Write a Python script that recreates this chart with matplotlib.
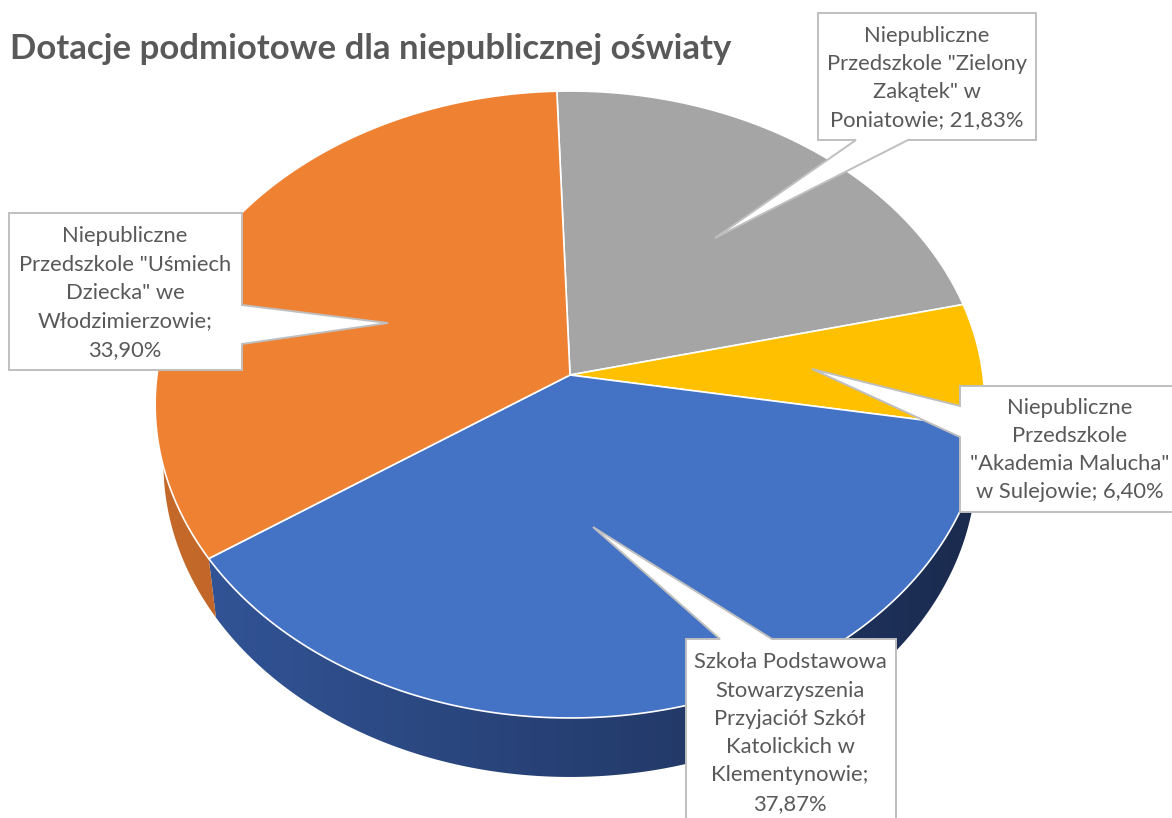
import numpy as np
import matplotlib
matplotlib.use("Agg")
import matplotlib.pyplot as plt
from matplotlib.patches import Polygon
from matplotlib.colors import LinearSegmentedColormap

# ---------------- data ----------------
title = "Dotacje podmiotowe dla niepublicznej oświaty"
categories = [
    'Niepubliczne\nPrzedszkole "Zielony\nZakątek" w\nPoniatowie',
    'Niepubliczne\nPrzedszkole\n"Akademia Malucha"\nw Sulejowie',
    'Szkoła Podstawowa\nStowarzyszenia\nPrzyjaciół Szkół\nKatolickich w\nKlementynowie',
    'Niepubliczne\nPrzedszkole "Uśmiech\nDziecka" we\nWłodzimierzowie',
]
shares = [21.83, 6.40, 37.87, 33.90]   # percent, clockwise from 12 o'clock
top_colors = ["#A5A5A5", "#FFC000", "#4472C4", "#EF8133"]
side_colors = [("#8A8A8A", "#6E6E6E"), ("#C89A00", "#9E7800"),
               ("#33569A", "#1A2A4D"), ("#C4692A", "#A8551B")]

TEXT = "#595959"
FONT = ["Lato", "DejaVu Sans"]

fig = plt.figure(figsize=(11.72, 8.18), dpi=100)
ax = fig.add_axes([0, 0, 1, 1])

# perspective projection of the unit disc onto the page (pixel units)
X0, Y0, A, B, D = 570.0, 375.0, 413.0, 275.4, -0.0941
DEPTH, SHRINK = 59.0, 0.98
TILT = np.deg2rad(2.0)


def proj(phi):
    x, y = np.cos(phi + TILT), -np.sin(phi + TILT)
    w = 1 + D * y
    return X0 + A * x / w, (Y0 + B * y) / w


def proj_bottom(phi):
    X, Y = proj(phi)
    return X0 + SHRINK * (X - X0), Y + DEPTH


fr = np.array(shares) / np.sum(shares)
starts = np.pi / 2 - 2 * np.pi * np.concatenate([[0], np.cumsum(fr)[:-1]])
ends = starts - 2 * np.pi * fr

# side walls
for s, e, (cl, cr) in zip(starts, ends, side_colors):
    phis = np.linspace(s, e, 200)
    tx, ty = proj(phis)
    bx, by = proj_bottom(phis[::-1])
    pts = np.column_stack([np.concatenate([tx, bx]), np.concatenate([ty, by])])
    patch = Polygon(pts, closed=True, fc="none", ec="none", zorder=1)
    ax.add_patch(patch)
    cmap = LinearSegmentedColormap.from_list("g", [cl, cr])
    grad = np.linspace(0, 1, 256).reshape(1, -1)
    ymin, ymax = pts[:, 1].min(), pts[:, 1].max()
    im = ax.imshow(grad, cmap=cmap, extent=(155, 990, ymax, ymin),
                   aspect="auto", zorder=1, interpolation="bilinear")
    im.set_clip_path(patch)

# top faces
for s, e, c in zip(starts, ends, top_colors):
    phis = np.linspace(s, e, 200)
    tx, ty = proj(phis)
    pts = np.column_stack([np.concatenate([[X0], tx]), np.concatenate([[Y0], ty])])
    ax.add_patch(Polygon(pts, closed=True, fc=c, ec="white", lw=1.2,
                         joinstyle="round", zorder=2))


# callouts
def callout(x0, y0, x1, y1, side, b0, b1, tip):
    if side == "bottom":
        pts = [(x0, y0), (x1, y0), (x1, y1), (b1, y1), tip, (b0, y1), (x0, y1)]
    elif side == "right":
        pts = [(x0, y0), (x1, y0), (x1, b0), tip, (x1, b1), (x1, y1), (x0, y1)]
    elif side == "left":
        pts = [(x0, y0), (x1, y0), (x1, y1), (x0, y1), (x0, b1), tip, (x0, b0)]
    else:  # top
        pts = [(x0, y0), (b0, y0), tip, (b1, y0), (x1, y0), (x1, y1), (x0, y1)]
    ax.add_patch(Polygon(pts, closed=True, fc="white", ec="#BFBFBF", lw=1.4,
                         joinstyle="miter", zorder=5))


label_texts = [f"{c}; {v:.2f}%".replace(".", ",") for c, v in zip(categories, shares)]
label_texts[3] = f"{categories[3]};\n{shares[3]:.2f}%".replace(".", ",")
label_texts[2] = f"{categories[2]};\n{shares[2]:.2f}%".replace(".", ",")

callout(818, 13, 1036, 140, "bottom", 856, 908, (715, 238))
callout(960, 386, 1190, 512, "left", 406, 437, (812, 369))
callout(686, 639, 896, 830, "top", 720, 772, (593, 527))
callout(9, 213, 242, 370, "right", 305, 344, (388, 323))

label_xy = [(927, 78), (1070, 450), (790, 733), (125, 293)]
for (x, y), t in zip(label_xy, label_texts):
    ax.text(x, y, t, ha="center", va="center", color=TEXT, fontsize=15.8,
            family=FONT, linespacing=1.52, zorder=6)

ax.text(10, 49, title, ha="left", va="center", color=TEXT, fontsize=25,
        fontweight="bold", family=FONT, zorder=6)

ax.set_xlim(0, 1172)
ax.set_ylim(818, 0)
ax.axis("off")
fig.savefig("out.png", dpi=100, facecolor="white")
